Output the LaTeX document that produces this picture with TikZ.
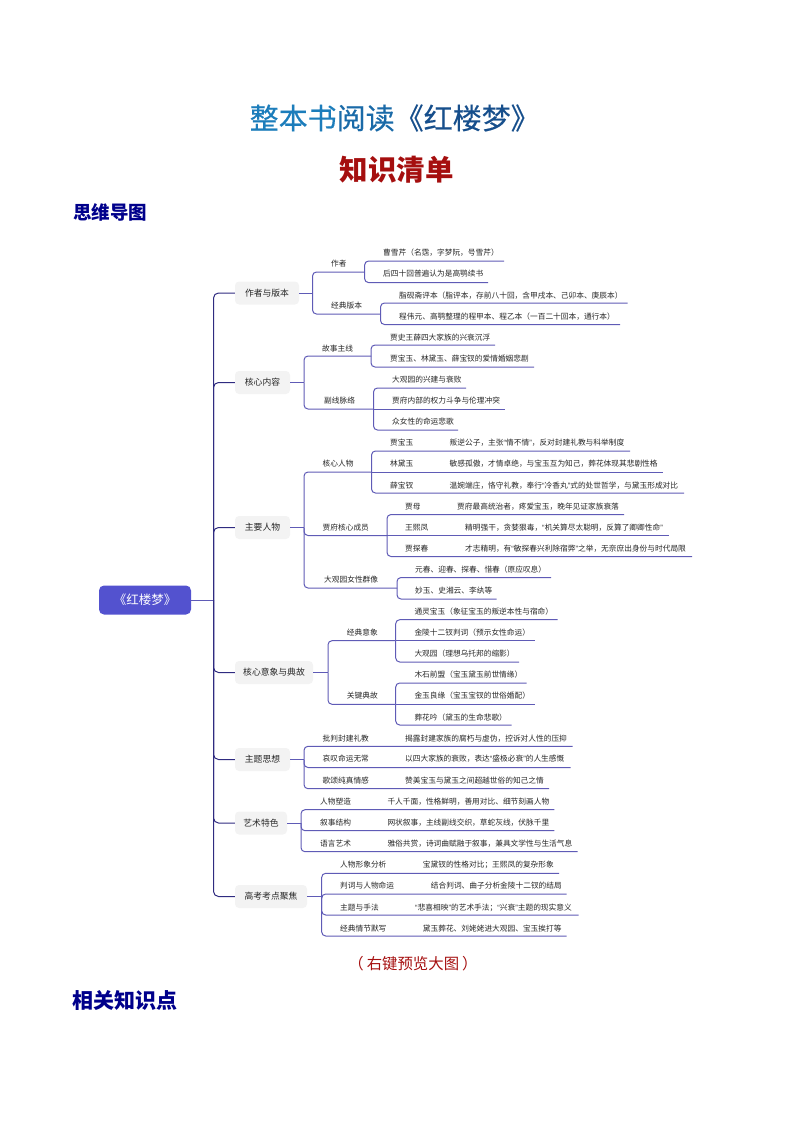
\documentclass[tikz,border=0pt]{standalone}
\usepackage{fontspec}
\setmainfont{Noto Sans CJK SC}
\newfontfamily\quofont{Liberation Sans}
\newcommand{\quo}[1]{{\quofont “}#1{\quofont ”}}
\usetikzlibrary{positioning}
\definecolor{inkc}{HTML}{262626}
\definecolor{spinec}{HTML}{2F2B80}
\definecolor{wirec}{HTML}{5F5BB6}
\definecolor{pillc}{HTML}{F3F3F3}
\definecolor{rootc}{HTML}{5352CF}
\definecolor{redc}{HTML}{A50F0F}
\definecolor{navyc}{HTML}{00008B}
\tikzset{
  leaf/.style={anchor=west,inner sep=0pt,text=inkc,text height=6.6pt,text depth=0pt,font=\fontsize{7.7}{8}\selectfont},
  pill/.style={rounded corners=4pt,fill=pillc,text=inkc,inner sep=0pt,minimum height=23pt,font=\fontsize{8.8}{9}\selectfont},
  wire/.style={draw=wirec,line width=1pt,rounded corners=4pt},
  spine/.style={draw=spinec,line width=1pt,rounded corners=5pt},
  head/.style={anchor=west,inner sep=0pt,font=\fontsize{18.5}{19}\selectfont\bfseries,text=navyc}
}
\begin{document}
\begin{tikzpicture}[x=1pt,y=-1pt]
\useasboundingbox (0,0) rectangle (794,1123);
\node[anchor=west,inner sep=0pt,font=\fontsize{29}{30}\selectfont\addfontfeature{FakeBold=0.4}] (title) at (249.5,118) {\textcolor[HTML]{1C7DBB}{整本书}\textcolor[HTML]{1A6AA8}{阅读}\textcolor[HTML]{174F8C}{《红楼梦》}};
\node[inner sep=0pt,font=\fontsize{28.5}{29}\selectfont\bfseries,text=redc] (sub) at (396.5,170) {知识清单};
\node[head] (mapt) at (73,212) {思维导图};
\node[inner sep=0pt,font=\fontsize{15.4}{16}\selectfont,text=redc] (hint) at (413,964) {（\hspace{3pt}右键预览大图\hspace{3pt}）};
\node[head,font=\fontsize{21}{22}\selectfont\bfseries] (rel) at (72.7,1000) {相关知识点};
\node[fill=rootc,rounded corners=5pt,text=white,minimum width=92pt,minimum height=29pt,inner sep=0pt,font=\fontsize{12.5}{13}\selectfont] (root) at (145,600) {《红楼梦》};
\coordinate (sp) at (213.5,600);
\draw[wire] (root.east) -- (sp);
\node[pill,minimum width=64pt] (tA) at (267,293) {作者与版本};
\node[pill,minimum width=55pt] (tB) at (262.5,382.5) {核心内容};
\node[pill,minimum width=55pt] (tC) at (262.5,527.5) {主要人物};
\node[pill,minimum width=78pt] (tD) at (274,672.5) {核心意象与典故};
\node[pill,minimum width=55pt] (tE) at (262.5,759.5) {主题思想};
\node[pill,minimum width=52pt] (tF) at (261,823) {艺术特色};
\node[pill,minimum width=72pt] (tG) at (271,896.5) {高考考点聚焦};
\draw[spine] (sp) |- (tA.west);
\draw[spine] (sp) |- (tB.west);
\draw[spine] (sp) |- (tC.west);
\draw[spine] (sp) |- (tD.west);
\draw[spine] (sp) |- (tE.west);
\draw[spine] (sp) |- (tF.west);
\draw[spine] (sp) |- (tG.west);
\coordinate (bA) at (312.5,293);
\coordinate (bB) at (304,382.5);
\coordinate (bC) at (304,527.5);
\coordinate (bD) at (328,672.5);
\coordinate (bE) at (304,759.5);
\coordinate (bF) at (301,823);
\coordinate (bG) at (321.7,896.5);
\draw[wire] (tA.east) -- (bA);
\draw[wire] (tB.east) -- (bB);
\draw[wire] (tC.east) -- (bC);
\draw[wire] (tD.east) -- (bD);
\draw[wire] (tE.east) -- (bE);
\draw[wire] (tF.east) -- (bF);
\draw[wire] (tG.east) -- (bG);
\node[leaf] (sA1) at (331,263) {作者};
\coordinate (uA1) at (364.6,272);
\draw[wire] (bA) |- (uA1);
\node[leaf] (sA2) at (331,305) {经典版本};
\coordinate (uA2) at (380.5,314);
\draw[wire] (bA) |- (uA2);
\node[leaf] (lA11) at (383,252.5) {曹雪芹（名霑，字梦阮，号雪芹）};
\coordinate (eA11) at (504,261);
\draw[wire] (uA1) |- (eA11);
\node[leaf] (lA12) at (383,273.5) {后四十回普遍认为是高鹗续书};
\coordinate (eA12) at (488,282.6);
\draw[wire] (uA1) |- (eA12);
\node[leaf] (lA21) at (399,295) {脂砚斋评本（脂评本，存前八十回，含甲戌本、己卯本、庚辰本）};
\coordinate (eA21) at (627.7,303);
\draw[wire] (uA2) |- (eA21);
\node[leaf] (lA22) at (399,316) {程伟元、高鹗整理的程甲本、程乙本（一百二十回本，通行本）};
\coordinate (eA22) at (620,324.5);
\draw[wire] (uA2) |- (eA22);
\node[leaf] (sB1) at (322,347.7) {故事主线};
\coordinate (uB1) at (371,356);
\draw[wire] (bB) |- (uB1);
\node[leaf] (sB2) at (324,400) {副线脉络};
\coordinate (uB2) at (373.5,409);
\draw[wire] (bB) |- (uB2);
\node[leaf] (lB11) at (390,337) {贾史王薛四大家族的兴衰沉浮};
\coordinate (eB11) at (495,345);
\draw[wire] (uB1) |- (eB11);
\node[leaf] (lB12) at (390,358) {贾宝玉、林黛玉、薛宝钗的爱情婚姻悲剧};
\coordinate (eB12) at (534,367);
\draw[wire] (uB1) |- (eB12);
\node[leaf] (lB21) at (392,379) {大观园的兴建与衰败};
\coordinate (eB21) at (466,388);
\draw[wire] (uB2) |- (eB21);
\node[leaf] (lB22) at (392,400) {贾府内部的权力斗争与伦理冲突};
\coordinate (eB22) at (505,409);
\draw[wire] (uB2) -- (eB22);
\node[leaf] (lB23) at (392,421) {众女性的命运悲歌};
\coordinate (eB23) at (458,430);
\draw[wire] (uB2) |- (eB23);
\node[leaf] (sC1) at (322.5,463) {核心人物};
\coordinate (uC1) at (371.5,472);
\draw[wire] (bC) |- (uC1);
\node[leaf] (sC2) at (322.5,526.7) {贾府核心成员};
\coordinate (uC2) at (387,535.5);
\draw[wire] (bC) |- (uC2);
\node[leaf] (sC3) at (324,579.3) {大观园女性群像};
\coordinate (uC3) at (397,588);
\draw[wire] (bC) |- (uC3);
\node[leaf] (lC11) at (390,442.3) {贾宝玉};
\node[leaf] (dC11) at (449.5,442.3) {叛逆公子，主张\quo{情不情}，反对封建礼教与科举制度};
\coordinate (eC11) at (630,451);
\draw[wire] (uC1) |- (eC11);
\node[leaf] (lC12) at (390,463) {林黛玉};
\node[leaf] (dC12) at (449.5,463) {敏感孤傲，才情卓绝，与宝玉互为知己，葬花体现其悲剧性格};
\coordinate (eC12) at (662.7,472);
\draw[wire] (uC1) -- (eC12);
\node[leaf] (lC13) at (390,484.7) {薛宝钗};
\node[leaf] (dC13) at (449.5,484.7) {温婉端庄，恪守礼教，奉行\quo{冷香丸}式的处世哲学，与黛玉形成对比};
\coordinate (eC13) at (684,493);
\draw[wire] (uC1) |- (eC13);
\node[leaf] (lC21) at (405,505.7) {贾母};
\node[leaf] (dC21) at (457,505.7) {贾府最高统治者，疼爱宝玉，晚年见证家族衰落};
\coordinate (eC21) at (624,514.5);
\draw[wire] (uC2) |- (eC21);
\node[leaf] (lC22) at (405,526.7) {王熙凤};
\node[leaf] (dC22) at (465,526.7) {精明强干，贪婪狠毒，\quo{机关算尽太聪明，反算了卿卿性命}};
\coordinate (eC22) at (668.7,535.5);
\draw[wire] (uC2) -- (eC22);
\node[leaf] (lC23) at (405,548) {贾探春};
\node[leaf] (dC23) at (465,548) {才志精明，有\quo{敏探春兴利除宿弊}之举，无奈庶出身份与时代局限};
\coordinate (eC23) at (692,556.5);
\draw[wire] (uC2) |- (eC23);
\node[leaf] (lC31) at (415,569) {元春、迎春、探春、惜春（原应叹息）};
\coordinate (eC31) at (551,577.5);
\draw[wire] (uC3) |- (eC31);
\node[leaf] (lC32) at (415,590) {妙玉、史湘云、李纨等};
\coordinate (eC32) at (496.7,599);
\draw[wire] (uC3) |- (eC32);
\node[leaf] (sD1) at (346.7,632) {经典意象};
\coordinate (uD1) at (395.7,640.7);
\draw[wire] (bD) |- (uD1);
\node[leaf] (sD2) at (346.7,695.3) {关键典故};
\coordinate (uD2) at (395.7,704.3);
\draw[wire] (bD) |- (uD2);
\node[leaf] (lD11) at (414.3,611) {通灵宝玉（象征宝玉的叛逆本性与宿命）};
\coordinate (eD11) at (557.7,619.7);
\draw[wire] (uD1) |- (eD11);
\node[leaf] (lD12) at (414.3,632) {金陵十二钗判词（预示女性命运）};
\coordinate (eD12) at (534.7,640.7);
\draw[wire] (uD1) -- (eD12);
\node[leaf] (lD13) at (414.3,653.3) {大观园（理想乌托邦的缩影）};
\coordinate (eD13) at (519,662);
\draw[wire] (uD1) |- (eD13);
\node[leaf] (lD21) at (414.3,674.3) {木石前盟（宝玉黛玉前世情缘）};
\coordinate (eD21) at (526.7,683);
\draw[wire] (uD2) |- (eD21);
\node[leaf] (lD22) at (414.3,695.3) {金玉良缘（宝玉宝钗的世俗婚配）};
\coordinate (eD22) at (534.7,704.3);
\draw[wire] (uD2) -- (eD22);
\node[leaf] (lD23) at (414.3,716.7) {葬花吟（黛玉的生命悲歌）};
\coordinate (eD23) at (511.7,725);
\draw[wire] (uD2) |- (eD23);
\node[leaf] (lE1) at (322.5,737.7) {批判封建礼教};
\node[leaf] (dE1) at (405,737.7) {揭露封建家族的腐朽与虚伪，控诉对人性的压抑};
\coordinate (eE1) at (572.7,746.3);
\draw[wire] (bE) |- (eE1);
\node[leaf] (lE2) at (322.5,758.3) {哀叹命运无常};
\node[leaf] (dE2) at (405,758.3) {以四大家族的衰败，表达\quo{盛极必衰}的人生感慨};
\coordinate (eE2) at (570.7,767.5);
\draw[wire] (bE) |- (eE2);
\node[leaf] (lE3) at (322.5,779.7) {歌颂纯真情感};
\node[leaf] (dE3) at (405,779.7) {赞美宝玉与黛玉之间超越世俗的知己之情};
\coordinate (eE3) at (549,788.7);
\draw[wire] (bE) |- (eE3);
\node[leaf] (lF1) at (320,801) {人物塑造};
\node[leaf] (dF1) at (387.3,801) {千人千面，性格鲜明，善用对比、细节刻画人物};
\coordinate (eF1) at (554.3,809.7);
\draw[wire] (bF) |- (eF1);
\node[leaf] (lF2) at (320,822) {叙事结构};
\node[leaf] (dF2) at (387.3,822) {网状叙事，主线副线交织，草蛇灰线，伏脉千里};
\coordinate (eF2) at (554.3,830.7);
\draw[wire] (bF) |- (eF2);
\node[leaf] (lF3) at (320,843) {语言艺术};
\node[leaf] (dF3) at (387.3,843) {雅俗共赏，诗词曲赋融于叙事，兼具文学性与生活气息};
\coordinate (eF3) at (577.7,851.7);
\draw[wire] (bF) |- (eF3);
\node[leaf] (lG1) at (340,864) {人物形象分析};
\node[leaf] (dG1) at (422.7,864) {宝黛钗的性格对比；王熙凤的复杂形象};
\coordinate (eG1) at (559,873.3);
\draw[wire] (bG) |- (eG1);
\node[leaf] (lG2) at (340,885.3) {判词与人物命运};
\node[leaf] (dG2) at (430.7,885.3) {结合判词、曲子分析金陵十二钗的结局};
\coordinate (eG2) at (566.7,894);
\draw[wire] (bG) |- (eG2);
\node[leaf] (lG3) at (340,906.7) {主题与手法};
\node[leaf] (dG3) at (415,906.7) {\quo{悲喜相映}的艺术手法；\quo{兴衰}主题的现实意义};
\coordinate (eG3) at (578.7,915);
\draw[wire] (bG) |- (eG3);
\node[leaf] (lG4) at (340,927.7) {经典情节默写};
\node[leaf] (dG4) at (422.7,927.7) {黛玉葬花、刘姥姥进大观园、宝玉挨打等};
\coordinate (eG4) at (566.7,936);
\draw[wire] (bG) |- (eG4);
\end{tikzpicture}
\end{document}
